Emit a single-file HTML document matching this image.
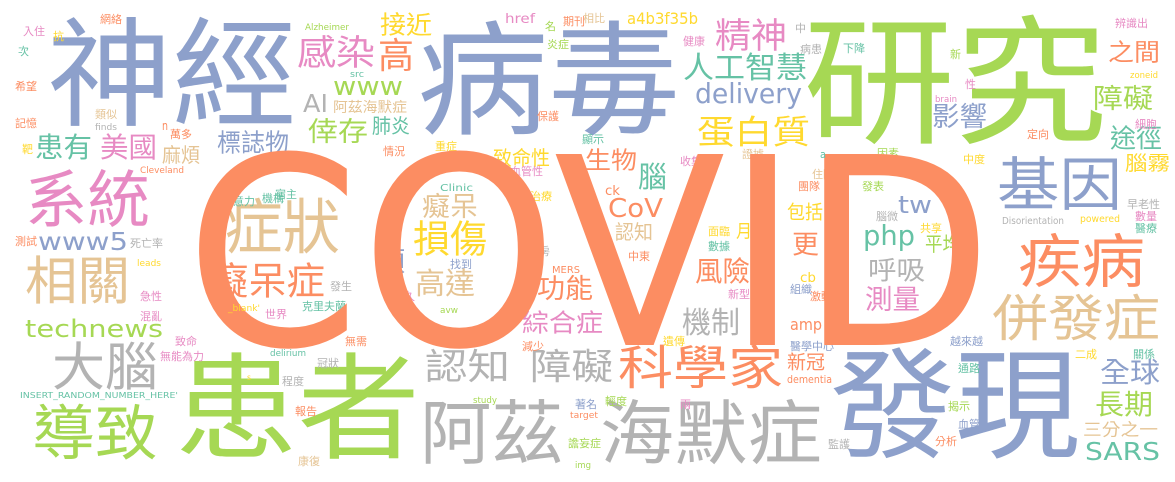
<!DOCTYPE html>
<html><head><meta charset="utf-8">
<style>
html,body{margin:0;padding:0;background:#fff;}
svg{display:block;}
text{font-family:"Liberation Sans","Noto Sans CJK TC",sans-serif;}
.c{font-family:"Noto Sans CJK TC","Liberation Sans",sans-serif;}
.l{font-family:"DejaVu Sans","Liberation Sans",sans-serif;}
</style></head>
<body>
<svg id="cloud" width="1175" height="482" viewBox="0 0 1175 482" xmlns="http://www.w3.org/2000/svg">
<rect width="1175" height="482" fill="#fff"/>
</svg>
<script>
var O="#fc8d62",G="#a6d854",B="#8da0cb",P="#e78ac3",Y="#ffd92f",T="#e5c494",R="#b3b3b3",E="#66c2a5";
// CJK words: text, x, top, width, height, color
var cjk=[
["病毒",417,18,263,124,B],["神經",47,15,250,118,B],["研究",803,12,304,140,G],
["患者",175,350,245,115,G],["發現",830,345,250,120,B],
["阿茲",420,398,143,70,R],["海默症",600,398,222,70,R],
["導致",32,403,126,60,G],["大腦",52,341,106,52,R],["科學家",618,344,165,47,O],
["認知",425,348,85,36,R],["障礙",530,348,83,36,R],["綜合症",522,310,81,25,P],
["系統",25,168,125,62,P],["相關",25,255,105,52,T],["症狀",225,197,115,60,T],["癡呆症",210,262,115,38,O],
["基因",997,155,125,58,B],["疾病",1018,232,127,58,O],["併發症",992,293,168,50,T],
["感染",297,35,78,35,P],["高",378,37,36,36,O],["接近",380,12,52,25,Y],
["倖存",308,118,60,27,G],["肺炎",372,116,38,20,E],["阿茲海默症",333,100,74,14,T],
["標誌物",217,130,72,25,B],["患有",35,133,57,28,E],["美國",100,133,57,28,P],["麻煩",162,145,38,20,T],
["精神",715,18,72,35,P],["人工智慧",683,52,124,30,E],["蛋白質",697,115,113,33,Y],
["之間",1108,40,52,24,O],["障礙",1093,85,60,27,G],["途徑",1110,125,52,26,E],["影響",932,103,55,27,B],["腦霧",1125,153,45,20,Y],
["致命性",493,148,57,20,Y],["生物",585,148,52,24,O],["腦",638,162,29,29,E],["認知",615,222,38,20,T],["月",736,222,16,18,Y],
["風險",695,257,55,28,O],["功能",537,275,56,27,O],["癡呆",422,193,56,27,T],["損傷",413,220,74,38,Y],["項",378,248,27,27,B],["高達",415,268,60,30,T],
["平均",925,234,35,20,G],["呼吸",868,257,57,26,R],["測量",865,286,55,27,P],["包括",787,202,36,19,Y],["更",792,231,27,26,O],["機制",682,307,58,30,R],
["新冠",787,352,38,19,O],["全球",1100,358,60,28,B],["長期",1095,390,58,28,G],["三分之一",1083,421,75,17,T]
];
// small CJK words: text, x, top, color
var small=[
["網絡",100,13,O],["入住",23,25,P],["抗",53,30,Y],["次",18,45,E],["希望",15,80,O],["記憶",15,117,O],["類似",95,108,T],["萬多",170,128,O],["靶",22,143,Y],
["血管性",510,165,P],["重症",435,140,Y],["情況",383,145,O],["保護",537,110,O],["顯示",582,133,E],["收集",680,155,P],["相比",583,12,T],["期刊",563,15,O],["名",545,20,G],["炎症",547,38,G],["健康",683,35,P],["證據",742,148,T],
["治療",530,190,Y],["過程",375,238,R],["病房",528,245,R],["找到",450,258,B],["中東",628,250,O],["發生",330,280,R],["持久",393,290,P],["面臨",708,225,Y],["數據",708,240,E],["新型",728,288,P],
["下降",843,42,E],["病患",800,43,R],["中",795,22,R],["新",950,48,G],["性",965,78,P],["辨識出",1115,17,P],["細胞",1135,118,P],["定向",1027,128,O],["因素",877,147,G],
["住院",812,168,T],["團隊",798,180,O],["發表",862,180,G],["腦微",876,210,R],["共享",920,222,Y],["中度",963,153,Y],["早老性",1127,198,R],["數量",1135,210,P],["醫療",1135,222,E],["組織",790,283,B],["激動",810,290,O],
["注意力",222,195,E],["機構",262,192,E],["宿主",275,188,E],["中常",200,240,P],["測試",15,235,O],["死亡率",130,237,R],
["急性",140,290,P],["混亂",140,310,P],["世界",265,308,P],["克里夫蘭",302,300,E],["致命",175,335,P],["無能為力",160,350,P],["無需",345,335,O],["冠狀",317,357,R],["程度",282,375,R],["報告",295,405,O],["康復",298,455,T],
["減少",522,340,O],["遺傳",663,335,Y],["醫學中心",790,340,B],["著名",575,398,B],["輕度",605,395,G],["兩",680,398,P],["譫妄症",568,437,G],
["越來越",950,335,B],["二成",1075,348,Y],["關係",1133,348,E],["通路",958,362,E],["揭示",948,400,G],["血管",958,418,B],["分析",935,435,O],["監護",828,438,R]
];
// latin words: text, x, baseline, width, fontsize, color
var latin=[
["COVID",185,345,808,262,O],["www5",38,250,90,25,B],["technews",25,337,138,24,G],["www",333,95,70,26,G],["AI",303,112,25,25,R],
["delivery",695,103,107,28,B],["a4b3f35b",627,24,71,16,Y],["href",505,23,30,13,P],["CoV",608,217,55,26,O],["tw",898,213,34,24,B],["php",863,245,52,28,E],
["SARS",1085,460,75,25,E],["amp",790,330,32,16,O],["cb",800,282,16,13,Y],["ck",605,195,15,13,O],["dementia",787,383,45,11,O],
["INSERT_RANDOM_NUMBER_HERE'",20,398,158,8,E],["Disorientation",1002,224,62,10,R],["powered",1080,222,40,10,Y],["Clinic",440,191,33,10,E],["MERS",552,273,28,10,O],
["Alzheimer",305,30,44,9,G],["src",350,77,14,9,E],["finds",95,130,22,9,R],["n",162,130,6,12,O],["Cleveland",140,173,44,9,O],["leads",137,266,24,9,Y],["_blank'",228,311,32,9,Y],["delirium",270,356,36,9,E],["s",247,380,4,8,Y],
["avw",440,313,18,9,G],["study",473,403,24,9,G],["target",570,418,28,9,O],["img",575,468,16,9,G],["a",820,158,6,11,E],["brain",935,102,22,9,P],["zoneid",1130,78,28,9,Y]
];
var svg=document.getElementById('cloud');
var NS="http://www.w3.org/2000/svg";
function slug(s,i){return 'word-'+i;}
cjk.forEach(function(w,i){
  var t=document.createElementNS(NS,'text');
  
  
  t.setAttribute('class','c');
  t.setAttribute('x',w[1]);
  t.setAttribute('y',w[2]+w[4]*0.86);
  t.setAttribute('font-size',w[4]);
  t.setAttribute('fill',w[5]);
  t.setAttribute('textLength',w[3]);
  t.setAttribute('lengthAdjust','spacingAndGlyphs');
  t.textContent=w[0];
  svg.appendChild(t);
});
small.forEach(function(w,i){
  var t=document.createElementNS(NS,'text');
  
  
  t.setAttribute('class','c');
  t.setAttribute('x',w[1]);
  t.setAttribute('y',w[2]+10);
  t.setAttribute('font-size',11);
  t.setAttribute('fill',w[3]);
  t.textContent=w[0];
  svg.appendChild(t);
});
latin.forEach(function(w,i){
  var t=document.createElementNS(NS,'text');
  
  
  t.setAttribute('class','l');
  t.setAttribute('x',w[1]);
  t.setAttribute('y',w[2]);
  t.setAttribute('font-size',w[4]);
  t.setAttribute('fill',w[5]);
  t.setAttribute('textLength',w[3]);
  t.setAttribute('lengthAdjust','spacingAndGlyphs');
  t.textContent=w[0];
  svg.appendChild(t);
});
</script>
</body></html>
